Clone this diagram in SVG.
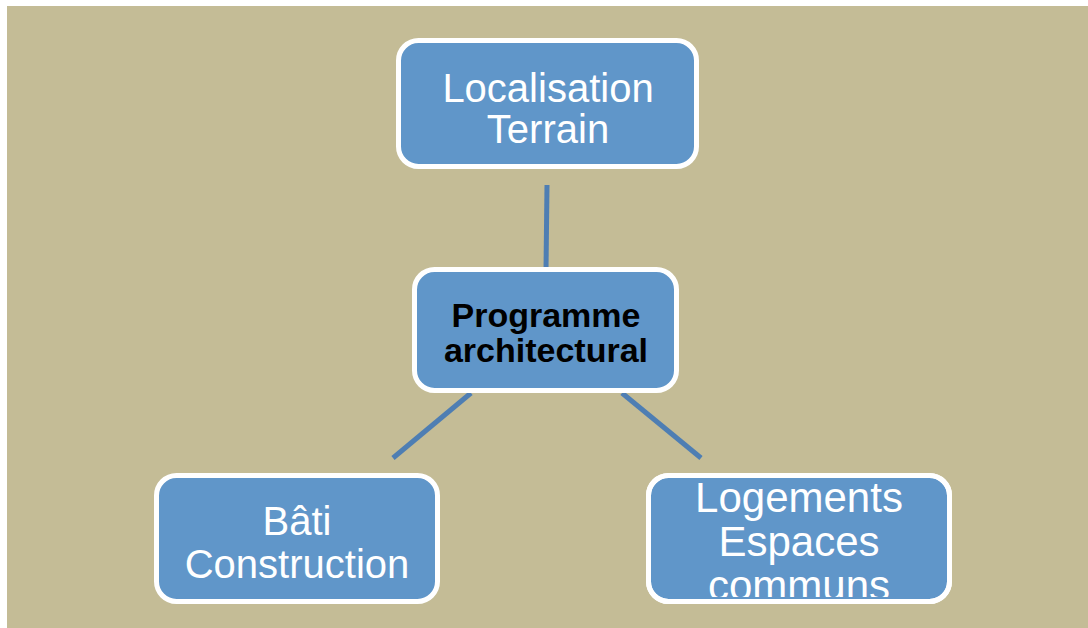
<svg xmlns="http://www.w3.org/2000/svg" width="1088" height="628" viewBox="0 0 1088 628">
  <defs>
    <style>
      .box { fill: #6096C9; stroke: #FFFFFF; stroke-width: 5; }
      .lbl { font-family: "Liberation Sans", Arial, sans-serif; fill: #FFFFFF; text-anchor: middle; }
      .lbl-main { font-family: "Liberation Sans", Arial, sans-serif; font-weight: bold; fill: #000000; text-anchor: middle; }
      .link { stroke: #4E7EB3; stroke-width: 5; fill: none; }
    </style>
    <clipPath id="clip-logements">
      <rect x="651" y="478" width="296" height="119"/>
    </clipPath>
  </defs>

  <!-- page -->
  <rect x="0" y="0" width="1088" height="628" fill="#FFFFFF"/>
  <rect x="7" y="6" width="1081" height="622" fill="#C4BC96"/>

  <!-- connectors -->
  <g id="connectors">
    <line class="link" x1="547" y1="185" x2="546" y2="270"/>
    <line class="link" x1="471" y1="393" x2="393" y2="458"/>
    <line class="link" x1="622" y1="393" x2="701" y2="458"/>
  </g>

  <!-- top node -->
  <g id="node-localisation">
    <rect class="box" x="398.5" y="40.5" width="298" height="126" rx="20"/>
    <text class="lbl" x="548" y="102" font-size="40">Localisation</text>
    <text class="lbl" x="548" y="143" font-size="40">Terrain</text>
  </g>

  <!-- center node -->
  <g id="node-programme">
    <rect class="box" x="414.5" y="269.5" width="262" height="121" rx="20"/>
    <text class="lbl-main" x="546" y="327" font-size="34">Programme</text>
    <text class="lbl-main" x="546" y="362" font-size="34">architectural</text>
  </g>

  <!-- bottom-left node -->
  <g id="node-bati">
    <rect class="box" x="156.5" y="475.5" width="281" height="126" rx="20"/>
    <text class="lbl" x="297" y="535" font-size="40">Bâti</text>
    <text class="lbl" x="297" y="578" font-size="40">Construction</text>
  </g>

  <!-- bottom-right node: third line overflows and is clipped -->
  <g id="node-logements">
    <rect class="box" x="648.5" y="475.5" width="301" height="126" rx="20"/>
    <g clip-path="url(#clip-logements)">
      <text class="lbl" x="799" y="512" font-size="42">Logements</text>
      <text class="lbl" x="799" y="556" font-size="42">Espaces</text>
      <text class="lbl" x="799" y="600" font-size="42">communs</text>
    </g>
    <rect x="648.5" y="475.5" width="301" height="126" rx="20" fill="none" stroke="#FFFFFF" stroke-width="5"/>
  </g>
</svg>
